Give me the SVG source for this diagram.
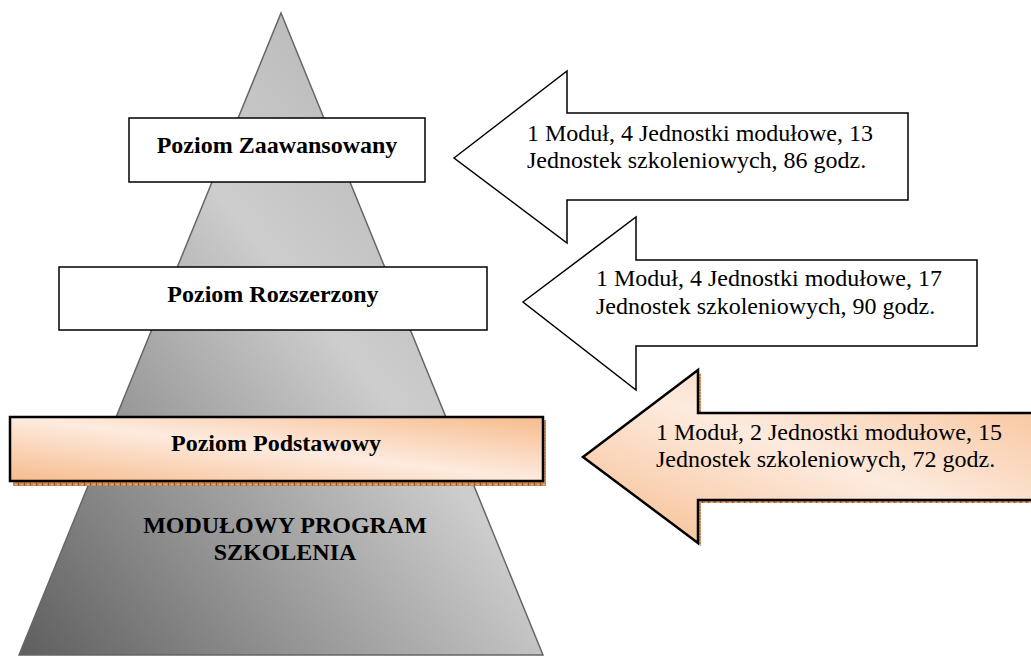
<svg xmlns="http://www.w3.org/2000/svg" width="1031" height="656" viewBox="0 0 1031 656">
<style>
.lbl{font-family:"Liberation Serif","Times New Roman",serif;font-size:24px;fill:#000}
.b{font-weight:bold}
.box{fill:#fff;stroke:#000;stroke-width:1.5}
.arr{fill:#fff;stroke:#000;stroke-width:1.5;stroke-linejoin:miter}
.orange{fill:url(#og);stroke:#000;stroke-width:2.5}
.shadow{fill:url(#sh);stroke:none}
</style>
<defs>
<linearGradient id="pg" x1="0" y1="1" x2="1" y2="0">
<stop offset="0" stop-color="#5e5e5e"/>
<stop offset="0.55" stop-color="#cdcdcd"/>
<stop offset="1" stop-color="#a9a9a9"/>
</linearGradient>
<linearGradient id="og" x1="0" y1="1" x2="1" y2="0">
<stop offset="0" stop-color="#f7bb8c"/>
<stop offset="0.5" stop-color="#fdebdf"/>
<stop offset="1" stop-color="#f7bb8c"/>
</linearGradient>
<pattern id="sh" width="6" height="3" patternUnits="userSpaceOnUse">
<rect width="6" height="3" fill="#c98a55"/>
<rect x="0" y="0" width="1" height="3" fill="#9c5a26"/>
<rect x="3" y="1" width="2" height="1" fill="#e2b38a"/>
</pattern>
</defs>

<g id="pyramid">
<polygon points="281,13 543,655 19,655" fill="url(#pg)" stroke="#666" stroke-width="1.5"/>
<text class="lbl b" x="285" y="533" text-anchor="middle">MODUŁOWY PROGRAM</text>
<text class="lbl b" x="285" y="560" text-anchor="middle">SZKOLENIA</text>
</g>

<g id="level-advanced">
<rect class="box" x="129" y="118" width="296" height="64"/>
<text class="lbl b" x="277" y="153" text-anchor="middle">Poziom Zaawansowany</text>
</g>

<g id="level-extended">
<rect class="box" x="59" y="267" width="428" height="63"/>
<text class="lbl b" x="273" y="302" text-anchor="middle">Poziom Rozszerzony</text>
</g>

<g id="level-basic">
<rect class="shadow" x="13" y="420" width="533" height="66"/>
<rect class="orange" x="10" y="417" width="533" height="64"/>
<text class="lbl b" x="276" y="451" text-anchor="middle">Poziom Podstawowy</text>
</g>

<g id="connectors">
<g id="arrow-advanced">
<polygon class="arr" points="454,158 567,71 567,113 908,113 908,200 567,200 567,243"/>
<text class="lbl" x="527" y="141">1 Moduł, 4 Jednostki modułowe, 13</text>
<text class="lbl" x="527" y="168">Jednostek szkoleniowych, 86 godz.</text>
</g>
<g id="arrow-extended">
<polygon class="arr" points="523,302 636,217 636,260 977,260 977,346 636,346 636,390"/>
<text class="lbl" x="596" y="286">1 Moduł, 4 Jednostki modułowe, 17</text>
<text class="lbl" x="596" y="314">Jednostek szkoleniowych, 90 godz.</text>
</g>
<g id="arrow-basic">
<polygon class="shadow" points="586,460 701,373 701,416 1045,416 1045,503 701,503 701,546"/>
<polygon class="orange" points="583,457 698,370 698,413 1045,413 1045,500 698,500 698,543"/>
<text class="lbl" x="656" y="440">1 Moduł, 2 Jednostki modułowe, 15</text>
<text class="lbl" x="656" y="467">Jednostek szkoleniowych, 72 godz.</text>
</g>
</g>
</svg>
